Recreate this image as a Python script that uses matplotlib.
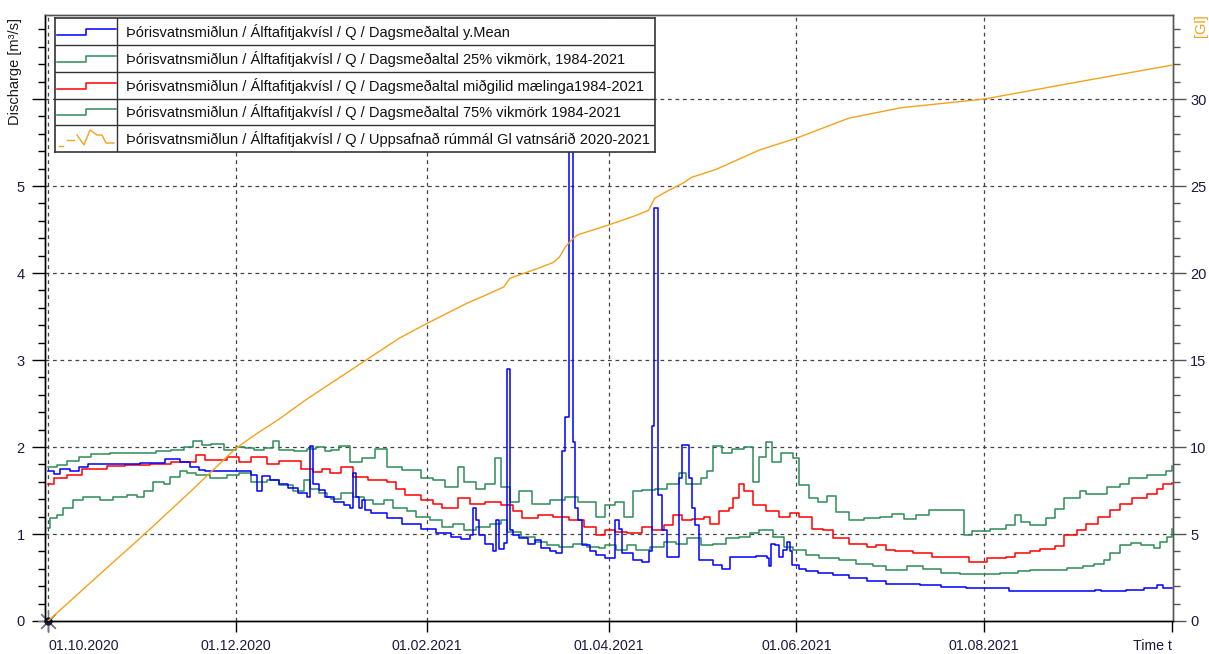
import numpy as np
import matplotlib
matplotlib.use("Agg")
import matplotlib.pyplot as plt
from matplotlib.ticker import MultipleLocator

plt.rcParams["font.family"] = ["Liberation Sans", "DejaVu Sans"]
plt.rcParams["font.size"] = 10

# ---- colours --------------------------------------------------------------
BLUE = "#0000ff"
GREEN = "#2e8b57"
RED = "#ff0000"
ORANGE = "#f4a21c"
GRIDC = "#444444"
FRAME = "#555555"

# ---- data (day 0 = 01.10.2020) --------------------------------------------
mean_days = [0, 2, 4, 7, 10, 13, 17, 30, 38, 43, 46, 49, 51, 66, 68, 69.5, 72, 75,
             78, 81, 84, 85, 86, 88, 90, 93, 96, 98, 99, 100, 101, 102, 103, 105,
             110, 115, 121, 126, 131, 134, 137, 138, 139, 140, 142, 144.5, 145.5,
             146.5, 148, 149, 150, 151, 153, 156, 158, 160, 163, 165, 167, 168,
             169, 170.5, 171, 172, 173.5, 176, 178, 181, 184, 185.5, 186.5, 190,
             193, 195, 196, 196.7, 198, 199.5, 201, 205, 206, 208, 209, 210, 211.5,
             216, 219, 221.5, 230, 233.5, 234, 234.6, 236, 237.5, 238.5, 240, 241,
             241.5, 244, 246, 250, 255, 260, 266, 272, 278, 283, 290, 298, 306,
             312, 325, 335, 340, 342, 350, 356, 360, 362, 365]
mean_vals = [1.72, 1.69, 1.75, 1.72, 1.77, 1.80, 1.81, 1.82, 1.86, 1.83, 1.77, 1.74,
             1.73, 1.68, 1.50, 1.67, 1.62, 1.58, 1.53, 1.47, 1.43, 2.01, 1.58, 1.51,
             1.43, 1.37, 1.33, 1.30, 1.70, 1.43, 1.30, 1.39, 1.28, 1.24, 1.18, 1.12,
             1.06, 1.01, 0.96, 0.94, 0.99, 1.30, 1.16, 0.99, 0.89, 0.81, 1.16, 0.83,
             0.90, 2.90, 1.05, 0.99, 0.95, 0.89, 0.93, 0.84, 0.80, 0.78, 1.95, 2.34,
             6.30, 2.06, 1.30, 1.16, 0.87, 0.80, 0.76, 0.72, 1.16, 1.06, 0.78, 0.70,
             0.68, 0.80, 2.24, 4.75, 1.45, 1.05, 0.74, 1.64, 2.02, 1.64, 1.30, 1.10,
             0.70, 0.64, 0.60, 0.74, 0.75, 0.72, 0.63, 0.89, 0.87, 0.74, 0.82, 0.91,
             0.80, 0.64, 0.60, 0.58, 0.55, 0.53, 0.49, 0.46, 0.43, 0.43, 0.41, 0.39,
             0.38, 0.38, 0.35, 0.34, 0.34, 0.36, 0.34, 0.36, 0.38, 0.41, 0.38, 0.38]

q25_days = [0, 0.5, 3, 5, 8, 11.5, 17, 21, 25.5, 29, 31, 34, 37.5, 39.5, 43, 45, 48,
            52.5, 58, 62, 66, 71, 75, 79.5, 83, 85, 88, 90.5, 92, 95, 99, 102.5,
            105.5, 109, 112, 116.5, 119.5, 124, 128, 131.5, 135, 139, 143.5, 147,
            149, 153.5, 158, 162, 166, 170.5, 175, 179, 181, 184.5, 188, 191, 195.5,
            200, 204, 207.5, 212, 216, 220, 224.5, 228, 231, 235.5, 239, 242, 246,
            250.5, 257, 262.5, 268, 272, 279, 284, 290, 296, 309, 315, 319, 331,
            336, 339.5, 343, 345, 348, 351.5, 355, 359, 361, 363.5, 365]
q25_vals = [1.07, 1.18, 1.22, 1.30, 1.39, 1.43, 1.39, 1.43, 1.45, 1.42, 1.50, 1.60,
            1.58, 1.66, 1.73, 1.70, 1.68, 1.64, 1.68, 1.70, 1.60, 1.62, 1.56, 1.50,
            1.62, 1.52, 1.47, 1.43, 1.40, 1.47, 1.43, 1.39, 1.35, 1.39, 1.30, 1.26,
            1.20, 1.16, 1.08, 1.11, 1.05, 1.08, 1.12, 1.16, 1.02, 0.97, 0.91, 0.87,
            0.85, 0.89, 0.85, 0.84, 0.87, 0.82, 0.87, 0.82, 0.85, 0.91, 0.89, 0.95,
            0.87, 0.89, 0.95, 0.97, 1.01, 1.05, 0.97, 0.85, 0.82, 0.76, 0.72, 0.70,
            0.66, 0.63, 0.59, 0.63, 0.60, 0.55, 0.54, 0.55, 0.57, 0.59, 0.61, 0.63,
            0.66, 0.70, 0.78, 0.87, 0.90, 0.87, 0.84, 0.91, 0.97, 1.06]

med_days = [0, 2, 6, 11, 19, 25, 33, 40, 48, 51, 58, 62, 66, 71, 75, 82, 86, 89,
            91.5, 95, 99, 104, 110, 113, 116, 121, 125, 128, 133, 137, 142, 147,
            151, 154, 159, 164, 169, 174, 178, 181, 184, 188, 193, 196, 200, 203,
            206, 209, 213, 215, 218, 221, 222.5, 224.5, 226, 229, 233, 237.5, 241,
            244, 248, 251.5, 255, 260, 266, 269, 272, 275, 281, 287, 294, 299, 305,
            311, 314, 319, 322, 327, 330, 334, 337, 341, 345, 348, 352, 357, 360,
            362, 365]
med_vals = [1.58, 1.64, 1.68, 1.75, 1.78, 1.79, 1.81, 1.83, 1.91, 1.85, 1.89, 1.83,
            1.88, 1.81, 1.84, 1.75, 1.71, 1.75, 1.70, 1.77, 1.65, 1.62, 1.60, 1.52,
            1.45, 1.39, 1.35, 1.30, 1.41, 1.35, 1.37, 1.33, 1.26, 1.18, 1.22, 1.20,
            1.16, 1.08, 0.99, 1.05, 1.02, 1.01, 1.08, 1.05, 1.10, 1.22, 1.16, 1.17,
            1.20, 1.12, 1.26, 1.30, 1.41, 1.58, 1.49, 1.33, 1.26, 1.20, 1.24, 1.20,
            1.06, 1.05, 0.95, 0.89, 0.85, 0.87, 0.82, 0.80, 0.78, 0.74, 0.74, 0.68,
            0.72, 0.74, 0.78, 0.81, 0.83, 0.86, 0.99, 1.05, 1.12, 1.20, 1.28, 1.35,
            1.41, 1.46, 1.52, 1.58, 1.59]

q75_days = [0, 3, 6, 10, 14, 20, 28, 35, 40, 44, 47, 50, 53, 57, 61, 64, 67, 70,
            73, 75, 80, 84, 87, 90, 92, 94.5, 98, 102, 106, 110, 115, 121, 125,
            129, 133, 135, 139, 142, 145, 147, 150, 153, 157, 163, 168, 172, 178,
            181, 184, 187, 190, 193, 197, 201, 205, 207, 212, 214, 216, 219, 222,
            226, 229, 231, 233, 235, 238, 242, 244, 247, 250, 253, 256, 260, 265,
            270, 274, 278, 282, 286, 297.5, 300, 306, 311, 314, 316, 319, 324, 327,
            330, 335, 337, 344, 348, 351, 357, 363, 365]
q75_vals = [1.77, 1.79, 1.84, 1.88, 1.92, 1.93, 1.93, 1.95, 1.96, 2.00, 2.07, 2.02,
            2.03, 1.97, 2.00, 1.99, 1.96, 1.99, 2.07, 1.96, 1.95, 1.98, 2.00, 1.95,
            1.97, 2.01, 1.83, 1.87, 1.98, 1.77, 1.74, 1.64, 1.62, 1.54, 1.77, 1.60,
            1.52, 1.58, 1.87, 1.54, 1.37, 1.49, 1.35, 1.39, 1.42, 1.37, 1.20, 1.33,
            1.37, 1.20, 1.49, 1.51, 1.52, 1.58, 1.70, 1.58, 1.64, 1.72, 2.01, 1.93,
            1.98, 2.00, 1.60, 1.89, 2.06, 1.83, 1.93, 1.87, 1.56, 1.41, 1.37, 1.44,
            1.25, 1.16, 1.18, 1.20, 1.23, 1.17, 1.22, 1.28, 0.99, 1.04, 1.06, 1.10,
            1.22, 1.14, 1.10, 1.18, 1.29, 1.41, 1.50, 1.46, 1.54, 1.58, 1.64, 1.68,
            1.73, 1.78]

vol_days = [0, 10, 20, 31, 46, 61, 68, 75, 84, 96, 105, 114, 123, 136, 143, 148, 150,
            158, 164, 166, 168, 170, 172, 182, 190, 195, 197, 201, 206, 209, 217,
            231, 243, 260, 277, 304, 335, 365]
vol_vals = [0, 1.6, 3.2, 4.94, 7.4, 9.93, 10.8, 11.6, 12.75, 14.15, 15.2, 16.25, 17.1,
            18.26, 18.8, 19.2, 19.7, 20.2, 20.6, 20.9, 21.5, 21.9, 22.2, 22.76, 23.25,
            23.6, 24.3, 24.7, 25.15, 25.5, 25.96, 27.07, 27.75, 28.9, 29.5, 30.0, 31.0,
            31.95]

tick_days = [0, 61, 123, 182, 243, 304, 365]
tick_labels = ["01.10.2020", "01.12.2020", "01.02.2021", "01.04.2021",
               "01.06.2021", "01.08.2021", "Time t"]

prefix = "Þórisvatnsmiðlun / Álftafitjakvísl / Q / "
legend_labels = [
    prefix + "Dagsmeðaltal y.Mean",
    prefix + "Dagsmeðaltal 25% vikmörk, 1984-2021",
    prefix + "Dagsmeðaltal miðgilid mælinga1984-2021",
    prefix + "Dagsmeðaltal 75% vikmörk 1984-2021",
    prefix + "Uppsafnað rúmmál Gl vatnsárið 2020-2021",
]
legend_colors = [BLUE, GREEN, RED, GREEN, ORANGE]

# ---- figure ---------------------------------------------------------------
W, H = 1209, 654
fig = plt.figure(figsize=(W / 100, H / 100), dpi=100)
fig.patch.set_facecolor("white")

ax = fig.add_axes([45 / W, 1 - 621 / H, 1128 / W, 606 / H])
ax2 = ax.twinx()

LW = 1.1
ax.plot(q75_days, q75_vals, drawstyle="steps-post", color=GREEN, lw=LW, zorder=3)
ax.plot(med_days, med_vals, drawstyle="steps-post", color=RED, lw=LW, zorder=3)
ax.plot(q25_days, q25_vals, drawstyle="steps-post", color=GREEN, lw=LW, zorder=3)
ax.plot(mean_days, mean_vals, drawstyle="steps-post", color=BLUE, lw=LW, zorder=4)
ax2.plot(vol_days, vol_vals, color=ORANGE, lw=1.0, zorder=3)

# origin marker
ax.plot([0], [0], marker=(8, 2, 0), ms=15, color="#777777", mew=0.9,
        clip_on=False, zorder=10)
ax.plot([0], [0], marker="o", ms=5, color="#0a1f44", clip_on=False, zorder=11)

ymax = 6.966
ax.set_xlim(-1, 365.3)
ax.set_ylim(0, ymax)
ax2.set_ylim(0, ymax * 5)

ax.set_xticks(tick_days)
ax.set_xticklabels(tick_labels, fontsize=10.2)
xl = ax.get_xticklabels()
xl[0].set_ha("left")
xl[-1].set_ha("right")

ax.set_yticks(range(7))
ax.set_yticklabels(["0", "1", "2", "3", "4", "5", ""], fontsize=10.5)
ax.yaxis.set_minor_locator(MultipleLocator(0.2))
ax2.set_yticks(range(0, 35, 5))
ax2.set_yticklabels([str(v) for v in range(0, 35, 5)], fontsize=10.5)
ax2.yaxis.set_minor_locator(MultipleLocator(1))

ax.tick_params(axis="y", which="major", direction="out", length=9.5, width=1,
               pad=5, colors="#000000", labelcolor="#1a1a40")
ax.tick_params(axis="y", which="minor", direction="out", length=5, width=1,
               color="#000000")
ax.tick_params(axis="x", which="major", direction="out", length=8, width=1,
               pad=5, colors="#000000", labelcolor="#1a1a40")
ax2.tick_params(axis="y", which="major", direction="out", length=9.5, width=1,
                pad=3, color=FRAME, labelcolor="#1a1a40")
ax2.tick_params(axis="y", which="minor", direction="out", length=5, width=1,
                color=FRAME)

# grid
for d in tick_days[:-1]:
    ax.axvline(d, color=GRIDC, lw=0.9, ls=(0, (3, 3)), zorder=1)
for v in range(1, 7):
    ax.axhline(v, color=GRIDC, lw=0.9, ls=(0, (3, 3)), zorder=1)

for a in (ax, ax2):
    a.spines["left"].set_color("#000000")
    a.spines["bottom"].set_color("#000000")
    a.spines["top"].set_color(FRAME)
    a.spines["right"].set_color(FRAME)
    for s in a.spines.values():
        s.set_linewidth(1.0)

fig.text(15 / W, 1 - 18 / H, "Discharge [m³/s]", rotation=90, ha="center",
         va="top", fontsize=10.5, color="#1a1a1a")
fig.text(1201 / W, 1 - 14 / H, "[Gl]", rotation=90, ha="center", va="top",
         fontsize=10.5, color=ORANGE)

# ---- legend box drawn as a small table -----------------------------------
lg = fig.add_axes([55 / W, 1 - 152 / H, 600 / W, 134 / H])
lg.set_xlim(0, 600)
lg.set_ylim(134, 0)
lg.set_xticks([])
lg.set_yticks([])
lg.set_facecolor("white")
for s in lg.spines.values():
    s.set_color("#333333")
    s.set_linewidth(1.2)
row_edges = [0, 27, 54, 81, 107, 134]
for yb in row_edges[1:-1]:
    lg.plot([0, 600], [yb, yb], color="#333333", lw=1.0)
lg.plot([62, 62], [0, 134], color="#333333", lw=1.0)

for i, (lab, col) in enumerate(zip(legend_labels, legend_colors)):
    top, bot = row_edges[i], row_edges[i + 1]
    c = (top + bot) / 2
    if i < 4:
        lg.plot([2, 31, 31, 61], [c + 3, c + 3, c - 3, c - 3], color=col, lw=1.1)
    else:
        lg.plot([4, 8], [top + 20.5, top + 20.5], color=col, lw=1.0)
        lg.plot([12, 19], [top + 15, top + 15], color=col, lw=1.0)
        lg.plot([22, 29, 35, 42, 47, 51, 59],
                [top + 10, top + 20, top + 5, top + 10, top + 10, top + 18, top + 18],
                color=col, lw=1.0)
    lg.text(71, c + 0.5, lab, ha="left", va="center", fontsize=10.5, color="#111111")

fig.savefig("out.png", dpi=100, facecolor="white")
